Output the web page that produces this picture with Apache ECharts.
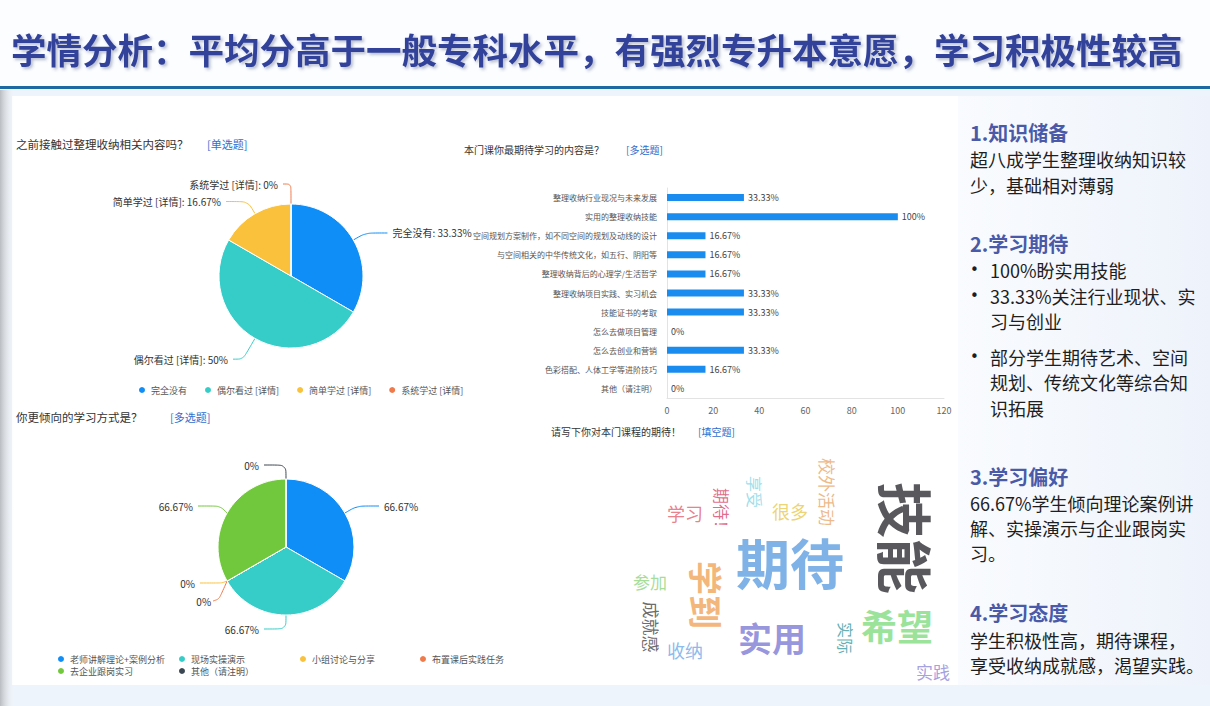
<!DOCTYPE html>
<html><head><meta charset="utf-8">
<script src="https://cdn.jsdelivr.net/npm/echarts@6/dist/echarts.min.js"></script>
<style>html,body{margin:0;padding:0;background:#fff;}#c{width:1210px;height:706px;}</style>
</head><body><div id="c"></div>
<script>
// ---------- data ----------
const pie1Names = ['完全没有', '偶尔看过 [详情]', '简单学过 [详情]', '系统学过 [详情]'];
const pie1Values = [33.33, 50, 16.67, 0];

const barCategories = ['整理收纳行业现况与未来发展', '实用的整理收纳技能', '空间规划方案制作，如不同空间的规划及动线的设计',
  '与空间相关的中华传统文化，如五行、阴阳等', '整理收纳背后的心理学/生活哲学', '整理收纳项目实践、实习机会',
  '技能证书的考取', '怎么去做项目管理', '怎么去创业和营销', '色彩搭配、人体工学等进阶技巧', '其他（请注明）'];
const barValues = [33.33, 100, 16.67, 16.67, 16.67, 33.33, 33.33, 0, 33.33, 16.67, 0];
const barTicks = [0, 20, 40, 60, 80, 100, 120];

const pie2Names = ['老师讲解理论+案例分析', '现场实操演示', '小组讨论与分享', '布置课后实践任务', '去企业跟岗实习', '其他（请注明）'];
const pie2Values = [66.67, 66.67, 0, 0, 66.67, 0];

const cloudWords = ['技能', '期待', '学到', '实用', '希望', '学习', '期待！', '享受', '很多', '校外活动', '参加', '成就感', '收纳', '实际', '实践'];
const cloudWeights = [10.4, 10, 6.3, 6.3, 6.6, 3.3, 3, 3, 3.3, 3.2, 3.2, 3.2, 3.3, 2.9, 3.2];
// word-cloud layout (cloud space 0-100), kept apart from the values
const cloudLayout = [[85.5, 37.7, 1], [52.8, 46.9, 0], [29.7, 59.6, 1], [47.8, 75.8, 0], [82.5, 71.2, 0],
  [23.6, 28.1, 0], [33.9, 27.7, 1], [43.1, 20, 1], [52.8, 27.3, 0], [63.1, 20, 1], [13.9, 54.6, 0],
  [14.4, 71.9, 1], [23.6, 80.8, 0], [68.3, 76.2, 1], [92.5, 89.2, 0]];
const cloudColors = ['#2f3034', '#5f9fe0', '#f0a458', '#7c7ad6', '#7fdc80', '#e2606c', '#d8456a', '#86d6e6',
  '#e9c84e', '#e9a86a', '#8fd47e', '#454545', '#6ea8e8', '#3a9aa0', '#8e88d8'];

const palette = ['#0f8ef8', '#36cdc8', '#fac13c', '#f07a4a', '#72c83c', '#3b4752'];
const FONT = '"Noto Sans CJK SC", "Microsoft YaHei", sans-serif';

// ---------- graphics (slide decoration + texts) ----------
function txt(x, y, s, size, color, weight, extra) {
  return Object.assign({ type: 'text', x: x, y: y, silent: true,
    style: Object.assign({ text: s, fontSize: size, fontFamily: FONT, fontWeight: weight || 'normal',
      fill: color, align: 'left', verticalAlign: 'middle' }, extra || {}) });
}
function bullet(x, y) {
  return txt(x, y, '•', 15, '#1e1e1e', 'normal', { fontFamily: '"DejaVu Sans", sans-serif' });
}
const graphics = [
  { type: 'rect', shape: { x: 0, y: 0, width: 1210, height: 706 }, style: { fill: '#eef4fb' }, z: -10, silent: true },
  { type: 'rect', shape: { x: 0, y: 0, width: 1210, height: 86 }, style: { fill: '#fbfdff' }, z: -9, silent: true },
  { type: 'rect', shape: { x: 12, y: 96, width: 946, height: 589 }, style: { fill: '#ffffff' }, z: -9, silent: true },
  { type: 'rect', shape: { x: 958, y: 96, width: 252, height: 589 },
    style: { fill: new echarts.graphic.LinearGradient(0, 0, 1, 0, [{ offset: 0, color: '#f9fbfe' }, { offset: 1, color: '#eef3fb' }]) }, z: -9, silent: true },
  { type: 'rect', shape: { x: 0, y: 90, width: 14, height: 616 },
    style: { fill: new echarts.graphic.LinearGradient(0, 0, 1, 0, [{ offset: 0, color: '#b9bcc0' }, { offset: 1, color: 'rgba(240,242,245,0)' }]) }, z: -8, silent: true },
  { type: 'rect', shape: { x: 0, y: 86, width: 1210, height: 3 }, style: { fill: '#1f69a3' }, z: -7, silent: true },
  txt(11, 48, '学情分析：平均分高于一般专科水平，有强烈专升本意愿，学习积极性较高', 35.5, '#33439a', 'bold',
    { textShadowColor: 'rgba(60,70,120,0.35)', textShadowBlur: 3, textShadowOffsetX: 2, textShadowOffsetY: 2 }),
  // chart titles
  txt(16, 144, '之前接触过整理收纳相关内容吗？', 11.5, '#333'),
  txt(207, 144, '[单选题]', 11, '#2f6fce'),
  txt(464, 149, '本门课你最期待学习的内容是？', 10, '#333'),
  txt(626, 149, '[多选题]', 10, '#2f6fce'),
  txt(16, 417, '你更倾向的学习方式是？', 11.5, '#333'),
  txt(170, 417, '[多选题]', 11, '#2f6fce'),
  txt(551, 431, '请写下你对本门课程的期待！', 10, '#333'),
  txt(698, 431, '[填空题]', 10, '#2f6fce'),
  // right panel
  txt(970, 132, '1.知识储备', 20, '#4a5aa8', 'bold'),
  txt(970, 159, '超八成学生整理收纳知识较', 18, '#1e1e1e'),
  txt(970, 185, '少，基础相对薄弱', 18, '#1e1e1e'),
  txt(970, 243, '2.学习期待', 20, '#4a5aa8', 'bold'),
  bullet(970, 270),
  txt(990, 270, '100%盼实用技能', 18, '#1e1e1e'),
  bullet(970, 296),
  txt(990, 296, '33.33%关注行业现状、实', 18, '#1e1e1e'),
  txt(990, 321, '习与创业', 18, '#1e1e1e'),
  bullet(970, 357),
  txt(990, 357, '部分学生期待艺术、空间', 18, '#1e1e1e'),
  txt(990, 382, '规划、传统文化等综合知', 18, '#1e1e1e'),
  txt(990, 408, '识拓展', 18, '#1e1e1e'),
  txt(970, 476, '3.学习偏好', 20, '#4a5aa8', 'bold'),
  txt(970, 503, '66.67%学生倾向理论案例讲', 18, '#1e1e1e'),
  txt(970, 528, '解、实操演示与企业跟岗实', 18, '#1e1e1e'),
  txt(970, 553, '习。', 18, '#1e1e1e'),
  txt(970, 612, '4.学习态度', 20, '#4a5aa8', 'bold'),
  txt(970, 640, '学生积极性高，期待课程，', 18, '#1e1e1e'),
  txt(970, 665, '享受收纳成就感，渴望实践。', 18, '#1e1e1e')
];

// ---------- series data ----------
const pie1Data = pie1Names.map((n, i) => ({ name: n, value: pie1Values[i], itemStyle: { color: palette[i] } }));
pie1Data[1].labelLine = { length: 24, length2: 10 };
pie1Data[3].labelLine = { length: 20, length2: 8 };
const pie2Data = pie2Names.map((n, i) => ({ name: n, value: pie2Values[i], itemStyle: { color: palette[i] } }));
pie2Data[2].labelLine = { length: 4, length2: 22 };
const cloudData = cloudWords.map((w, i) => ({
  name: w,
  value: [cloudLayout[i][0], cloudLayout[i][1]],
  label: {
    fontSize: Math.round(cloudWeights[i] * 5.4),
    color: cloudColors[i],
    rotate: cloudLayout[i][2] ? -90 : 0,
    fontWeight: cloudWeights[i] >= 6 ? 'bold' : 'normal'
  }
}));

// put a pie label on the left side of its anchor (mirror the guide line)
function flipToLeft(params) {
  const pts = params.labelLinePoints;
  if (!pts) return {};
  const cx = pts[0][0];
  if (params.labelRect.x < cx) return {};
  const np = pts.map(p => [2 * cx - p[0], p[1]]);
  return {
    x: 2 * cx - params.labelRect.x,
    y: params.labelRect.y + params.labelRect.height / 2,
    align: 'right', verticalAlign: 'middle',
    labelLinePoints: np
  };
}
// guide line that drops steeply below the anchor, label at its end
function dropDown(params) {
  const pts = params.labelLinePoints;
  if (!pts) return {};
  const p0 = pts[0];
  const p1 = [p0[0] - 8, p0[1] + 18];
  const p2 = [p1[0] - 6, p1[1] + 2];
  return { x: p2[0] - 2, y: p2[1], align: 'right', verticalAlign: 'middle', labelLinePoints: [p0, p1, p2] };
}

const legendText = { fontSize: 9, color: '#555', fontFamily: FONT };
function colLegend(left, top, names) {
  return { left: left, top: top, orient: 'vertical', icon: 'circle', itemWidth: 8, itemHeight: 8, itemGap: 2,
    data: names, textStyle: legendText, selectedMode: false };
}

const option = {
  animation: false,
  color: palette,
  textStyle: { fontFamily: FONT },
  graphic: graphics,
  legend: [
    { left: 132, top: 380, icon: 'circle', itemWidth: 8, itemHeight: 8, itemGap: 16, data: pie1Names,
      textStyle: legendText, selectedMode: false },
    colLegend(51, 649, [pie2Names[0], pie2Names[4]]),
    colLegend(172, 649, [pie2Names[1], pie2Names[5]]),
    colLegend(293, 649, [pie2Names[2]]),
    colLegend(413, 649, [pie2Names[3]])
  ],
  grid: [
    { left: 667, top: 188, width: 277, height: 210, containLabel: false },
    { left: 600, top: 440, width: 360, height: 260 }
  ],
  xAxis: [
    { gridIndex: 0, type: 'value', min: barTicks[0], max: barTicks[barTicks.length - 1], interval: 20,
      axisLine: { show: true, lineStyle: { color: '#e3e3e3' } }, axisTick: { show: false },
      splitLine: { show: false }, axisLabel: { fontSize: 9, color: '#666', margin: 8 } },
    { gridIndex: 1, type: 'value', min: 0, max: 100, show: false }
  ],
  yAxis: [
    { gridIndex: 0, type: 'category', data: barCategories, inverse: true,
      axisLine: { show: true, lineStyle: { color: '#e3e3e3' } }, axisTick: { show: false },
      axisLabel: { fontSize: 8, color: '#555', margin: 10 } },
    { gridIndex: 1, type: 'value', min: 0, max: 100, inverse: true, show: false }
  ],
  series: [
    { type: 'pie', name: 'q1', center: [291, 276], radius: 72, startAngle: 90, data: pie1Data,
      itemStyle: { borderColor: '#fff', borderWidth: 1 },
      label: { formatter: p => (p.dataIndex === 0 ? '完全没有' : p.name) + ': ' + p.value + '%',
        fontSize: 10, color: '#333' },
      labelLine: { length: 14, length2: 22, smooth: 0.3 },
      labelLayout: p => (p.dataIndex === 3 ? flipToLeft(p) : {}),
      emphasis: { disabled: true } },
    { type: 'bar', xAxisIndex: 0, yAxisIndex: 0, data: barValues, barWidth: 7,
      itemStyle: { color: '#1a8cf0' },
      label: { show: true, position: 'right', formatter: '{c}%', fontSize: 9, color: '#444', distance: 4 } },
    { type: 'pie', name: 'q3', center: [286, 547], radius: 68, startAngle: 90, data: pie2Data,
      itemStyle: { borderColor: '#fff', borderWidth: 1 },
      label: { formatter: '{c}%', fontSize: 10, color: '#333' },
      labelLine: { length: 14, length2: 22, smooth: 0.3 },
      labelLayout: p => ((p.dataIndex === 1 || p.dataIndex === 5) ? flipToLeft(p) : (p.dataIndex === 3 ? dropDown(p) : {})),
      emphasis: { disabled: true } },
    { type: 'scatter', xAxisIndex: 1, yAxisIndex: 1, data: cloudData, symbolSize: 1,
      itemStyle: { color: 'rgba(0,0,0,0)' }, silent: true,
      label: { show: true, position: 'inside', formatter: '{b}', fontFamily: FONT } }
  ]
};
const chart = echarts.init(document.getElementById('c'), null, { renderer: 'svg', width: 1210, height: 706 });
chart.setOption(option);
</script></body></html>
